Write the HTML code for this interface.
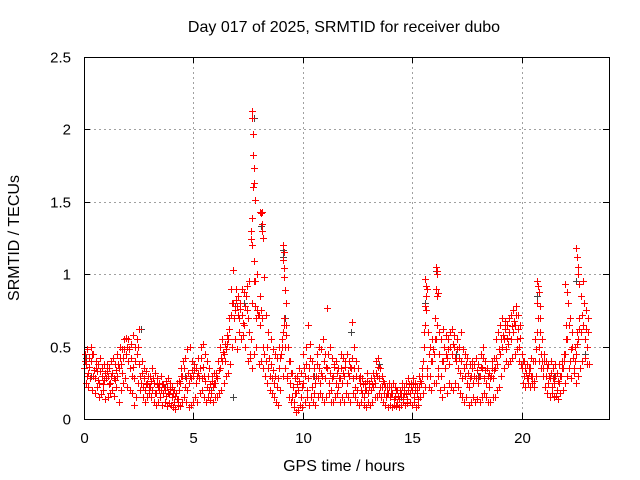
<!DOCTYPE html>
<html><head><meta charset="utf-8"><style>
html,body{margin:0;padding:0;background:#fff;}
svg{display:block;font-family:"Liberation Sans",sans-serif;}
</style></head><body>
<svg id="chart" width="640" height="480" viewBox="0 0 640 480" xmlns="http://www.w3.org/2000/svg">
<rect x="0" y="0" width="640" height="480" fill="#fff"/>
<text x="344" y="32" font-size="16" text-anchor="middle" fill="#000">Day 017 of 2025, SRMTID for receiver dubo</text>
<text x="344" y="471" font-size="16" text-anchor="middle" fill="#000">GPS time / hours</text>
<text transform="translate(19,238) rotate(-90)" font-size="16" text-anchor="middle" fill="#000">SRMTID / TECUs</text>
<g id="grid"></g>
<g id="ticks"></g>
<g id="gray"></g>
<g id="red"></g>
<rect x="84.5" y="57.5" width="525" height="362" fill="none" stroke="#000" stroke-width="1"/>
</svg>
<script>
const xTicks=[0,5,10,15,20];
const yTicks=[0,0.5,1,1.5,2,2.5];
const yTickLabels=["0","0.5","1","1.5","2","2.5"];
const times=[0.0,0.1,0.2,0.3,0.4,0.5,0.6,0.7,0.8,0.9,1.0,1.1,1.2,1.3,1.4,1.5,1.6,1.7,1.8,1.9,2.0,2.1,2.2,2.3,2.4,2.5,2.6,2.7,2.8,2.9,3.0,3.1,3.2,3.3,3.4,3.5,3.6,3.7,3.8,3.9,4.0,4.1,4.2,4.3,4.4,4.5,4.6,4.7,4.8,4.9,5.0,5.1,5.2,5.3,5.4,5.5,5.6,5.7,5.8,5.9,6.0,6.1,6.2,6.3,6.4,6.5,6.6,6.7,6.8,6.9,7.0,7.1,7.2,7.3,7.4,7.5,7.6,7.7,7.8,7.9,8.0,8.1,8.2,8.3,8.4,8.5,8.6,8.7,8.8,8.9,9.0,9.1,9.2,9.3,9.4,9.5,9.6,9.7,9.8,9.9,10.0,10.1,10.2,10.3,10.4,10.5,10.6,10.7,10.8,10.9,11.0,11.1,11.2,11.3,11.4,11.5,11.6,11.7,11.8,11.9,12.0,12.1,12.2,12.3,12.4,12.5,12.6,12.7,12.8,12.9,13.0,13.1,13.2,13.3,13.4,13.5,13.6,13.7,13.8,13.9,14.0,14.1,14.2,14.3,14.4,14.5,14.6,14.7,14.8,14.9,15.0,15.1,15.2,15.3,15.4,15.5,15.6,15.7,15.8,15.9,16.0,16.1,16.2,16.3,16.4,16.5,16.6,16.7,16.8,16.9,17.0,17.1,17.2,17.3,17.4,17.5,17.6,17.7,17.8,17.9,18.0,18.1,18.2,18.3,18.4,18.5,18.6,18.7,18.8,18.9,19.0,19.1,19.2,19.3,19.4,19.5,19.6,19.7,19.8,19.9,20.0,20.1,20.2,20.3,20.4,20.5,20.6,20.7,20.8,20.9,21.0,21.1,21.2,21.3,21.4,21.5,21.6,21.7,21.8,21.9,22.0,22.1,22.2,22.3,22.4,22.5,22.6,22.7,22.8,22.9,23.0];
const valsMid=[.35,.38,.32,.40,.30,.28,.33,.25,.30,.27, .28,.30,.25,.32,.27,.30,.35,.38,.42,.45, .40,.35,.30,.28,.45,.38,.25,.22,.20,.25, .22,.20,.25,.18,.22,.20,.18,.20,.22,.17, .15,.12,.18,.14,.25,.30,.22,.20,.25,.28, .30,.25,.32,.35,.28,.30,.22,.20,.18,.22, .25,.28,.35,.40,.45,.48,.55,.72,.80,.75, .78,.70,.72,.65,.85,.70,.45,.80,.78,.75, .72,.75,.50,.40,.35,.30,.28,.25,.22,.35, .45,.60,.50,.30,.25,.15,.12,.18,.20,.15, .25,.30,.20,.35,.22,.18,.30,.28,.25,.30, .28,.35,.25,.20,.30,.25,.22,.28,.25,.30, .25,.30,.35,.28,.22,.20,.25,.18,.15,.20, .18,.20,.22,.25,.30,.28,.22,.18,.15,.18, .15,.18,.15,.12,.14,.18,.15,.17,.20,.18, .20,.15,.18,.22,.25,.40,.65,.35,.30,.40, .45,.55,.35,.30,.40,.35,.42,.38,.45,.50, .40,.35,.32,.28,.30,.25,.22,.30,.25,.28, .25,.30,.35,.28,.25,.22,.30,.28,.35,.38, .45,.50,.55,.48,.52,.55,.60,.65,.55,.50, .35,.30,.32,.28,.35,.30,.40,.60,.50,.45, .35,.30,.25,.28,.22,.25,.20,.25,.30,.35, .45,.55,.40,.50,.35,.45,.55,.60,.65,.55, .50];
const valsHigh=[.45,.48,.42,.50,.45,.40,.38,.42,.35,.38, .38,.35,.40,.42,.38,.45,.50,.48,.55,.56, .55,.52,.58,.50,.55,.62,.40,.35,.33,.30, .30,.35,.32,.28,.25,.30,.24,.26,.28,.25, .22,.20,.25,.26,.35,.40,.42,.48,.50,.40, .38,.35,.42,.50,.52,.45,.40,.35,.30,.32, .32,.40,.50,.55,.52,.58,.70,.90,1.03,.90, .85,.80,.90,.88,.92,.95,1.30,1.60,.95,1.00, .85,1.43,.98,.72,.60,.55,.48,.45,.42,.50, .55,.70,.65,.50,.40,.32,.28,.30,.35,.32, .45,.50,.65,.52,.40,.35,.45,.50,.48,.55, .45,.77,.50,.42,.38,.40,.35,.45,.42,.40, .45,.40,.67,.50,.40,.35,.30,.28,.25,.32, .25,.28,.32,.40,.42,.35,.30,.25,.22,.25, .22,.25,.22,.20,.20,.25,.22,.25,.28,.25, .28,.25,.22,.30,.35,.60,.85,.60,.50,.55, .70,.85,.60,.55,.62,.58,.55,.60,.62,.58, .55,.50,.60,.48,.45,.42,.38,.40,.38,.42, .38,.45,.50,.40,.35,.32,.40,.42,.55,.60, .65,.70,.68,.65,.70,.72,.75,.78,.72,.65, .45,.40,.38,.35,.42,.40,.55,.80,.70,.55, .45,.40,.38,.40,.35,.38,.32,.38,.40,.45, .65,.80,.70,.60,.50,.60,.70,.85,.95,.75, .70];
const valsLow=[.25,.22,.28,.20,.18,.22,.15,.17,.20,.14, .15,.18,.20,.16,.22,.12,.20,.25,.28,.22, .20,.18,.10,.15,.25,.20,.15,.12,.15,.18, .15,.12,.10,.12,.15,.10,.12,.09,.11,.10, .08,.07,.10,.09,.12,.15,.12,.08,.10,.12, .15,.12,.18,.20,.15,.12,.15,.13,.12,.15, .15,.18,.20,.25,.30,.32,.38,.50,.55,.48, .60,.55,.58,.50,.40,.42,.35,.45,.50,.38, .40,.35,.30,.25,.20,.18,.15,.12,.10,.20, .30,.35,.28,.15,.12,.08,.05,.06,.10,.08, .12,.15,.10,.15,.12,.10,.15,.18,.15,.12, .15,.18,.12,.12,.15,.18,.12,.15,.12,.18, .15,.12,.18,.15,.12,.10,.12,.10,.08,.12, .10,.12,.15,.15,.18,.15,.12,.10,.08,.10, .08,.10,.09,.08,.10,.12,.10,.11,.12,.10, .12,.08,.10,.15,.18,.22,.30,.22,.20,.25, .25,.30,.20,.15,.22,.18,.25,.22,.20,.25, .22,.18,.15,.12,.15,.10,.12,.15,.12,.14, .12,.15,.18,.15,.12,.12,.15,.15,.20,.22, .30,.35,.40,.38,.40,.42,.45,.48,.40,.38, .25,.22,.25,.22,.25,.22,.30,.40,.35,.30, .22,.18,.15,.18,.15,.16,.14,.18,.20,.25, .30,.35,.28,.32,.25,.30,.35,.40,.42,.38, .38];
const valsAlt=[.40,.30,.36,.45,.34,.35,.27,.33,.24,.32, .33,.24,.30,.28,.34,.38,.42,.32,.48,.50, .48,.42,.36,.40,.50,.30,.32,.28,.24,.22, .26,.28,.18,.24,.20,.24,.22,.16,.18,.21, .18,.16,.14,.20,.30,.35,.28,.32,.30,.34, .34,.30,.28,.42,.36,.26,.30,.24,.26,.25, .30,.34,.42,.46,.40,.52,.62,.80,.70,.82, .72,.76,.66,.78,.75,.60,.55,.95,.70,.72, .65,.70,.45,.50,.42,.38,.34,.30,.28,.42, .50,.65,.58,.40,.32,.22,.18,.24,.26,.22, .35,.38,.28,.42,.30,.25,.38,.35,.32,.40, .36,.45,.32,.28,.36,.32,.28,.35,.32,.36, .32,.36,.42,.35,.30,.28,.20,.24,.20,.26, .22,.24,.28,.32,.36,.22,.26,.22,.18,.22, .18,.14,.20,.16,.18,.22,.18,.14,.24,.22, .24,.20,.14,.26,.30,.50,.75,.45,.40,.48, .55,.65,.45,.40,.50,.45,.48,.50,.52,.42, .48,.42,.40,.35,.38,.32,.28,.35,.30,.34, .30,.36,.42,.34,.30,.28,.35,.34,.42,.48, .55,.58,.62,.56,.60,.64,.68,.72,.62,.56, .40,.35,.28,.32,.30,.26,.48,.70,.60,.40, .40,.35,.30,.32,.28,.30,.26,.30,.35,.40, .55,.65,.48,.42,.40,.52,.62,.72,.80,.62, .60];
const spikeTimes=[7.65,7.7,7.7,7.72,7.74,7.76,7.78,7.8,7.7,7.75,7.68,8.05,8.1,8.12,8.15,8.2,9.1,9.12,9.1,9.15,9.12,9.18,9.25,15.6,15.65,15.7,15.6,16.1,16.12,16.15,16.1,16.2,20.7,20.75,20.8,20.85,22.0,22.1,22.5,22.55,22.6,22.58,22.62];
const spikeVals=[1.24,2.13,2.08,1.97,1.82,1.73,1.63,1.51,1.39,1.09,1.2,1.43,1.42,1.35,1.30,1.25,1.2,1.15,1.1,1.04,0.98,0.89,0.80,0.97,0.92,0.9,0.78,1.05,1.02,1.0,0.9,0.87,0.95,0.92,0.88,0.78,0.93,0.88,1.18,1.12,1.05,1.0,0.93];
const grayTimes=[0.1,0.3,1.2,2.6,2.4,3.7,4.6,5.8,6.8,6.9,7.3,7.75,7.72,8.1,9.1,9.1,9.2,10.5,11.5,12.2,13.5,14.5,15.6,16.1,17.0,18.0,19.5,20.7,21.5,22.5,22.9];
const grayVals=[.42,.30,.25,.62,.45,.22,.30,.20,.15,.78,.80,2.08,1.97,1.33,1.17,1.12,.70,.30,.25,.60,.38,.15,.80,1.02,.45,.30,.55,.85,.30,.95,.45];

const X0=84,X1=609,Y0=419,Y1=57;
function sx(v){return X0+(v/24)*(X1-X0);}
function sy(v){return Y0-(v/2.5)*(Y0-Y1);}
const NS="http://www.w3.org/2000/svg";
const grid=document.getElementById('grid'),ticks=document.getElementById('ticks');
function line(g,x1,y1,x2,y2,stroke,dash){const l=document.createElementNS(NS,'line');l.setAttribute('x1',x1);l.setAttribute('y1',y1);l.setAttribute('x2',x2);l.setAttribute('y2',y2);l.setAttribute('stroke',stroke);if(dash)l.setAttribute('stroke-dasharray',dash);g.appendChild(l);return l;}
xTicks.forEach(function(t){
  const x=Math.round(sx(t))+0.5;
  if(t>0){const gl=line(grid,x,Y1,x,Y0,'#a0a0a0','2,3');
  
  }
  line(ticks,x,Y0,x,Y0-6,'#000');line(ticks,x,Y1,x,Y1+6,'#000');
  const tx=document.createElementNS(NS,'text');
  
  
  tx.setAttribute('x',x);tx.setAttribute('y',443);tx.setAttribute('font-size','15');tx.setAttribute('text-anchor','middle');tx.textContent=String(t);ticks.appendChild(tx);
});
yTicks.forEach(function(t,i){
  const y=Math.round(sy(t))+0.5;
  if(t>0&&t<2.5){const gl=line(grid,X0,y,X1,y,'#a0a0a0','2,3');
  
  }
  line(ticks,X0,y,X0+6,y,'#000');line(ticks,X1,y,X1-6,y,'#000');
  const tx=document.createElementNS(NS,'text');
  
  
  tx.setAttribute('x',71);tx.setAttribute('y',y+5);tx.setAttribute('font-size','15');tx.setAttribute('text-anchor','end');tx.textContent=yTickLabels[i];ticks.appendChild(tx);
});
function plus(g,t,v,color){
  const x=Math.round(sx(t))+0.5,y=Math.round(sy(v))+0.5;
  const p=document.createElementNS(NS,'path');
  
  
  p.setAttribute('d','M'+(x-3.5)+' '+y+'H'+(x+3.5)+'M'+x+' '+(y-3.5)+'V'+(y+3.5));
  p.setAttribute('stroke',color);p.setAttribute('stroke-width','1');p.setAttribute('fill','none');
  g.appendChild(p);
}
const gG=document.getElementById('gray'),gR=document.getElementById('red');
grayTimes.forEach(function(t,i){plus(gG,t,grayVals[i],'#444');});
times.forEach(function(t,i){
  plus(gR,t,valsMid[i],'#ff0000');
  plus(gR,t+0.03,valsHigh[i],'#ff0000');
  plus(gR,t+0.05,valsAlt[i],'#ff0000');
  plus(gR,t+0.08,valsLow[i],'#ff0000');
});
spikeTimes.forEach(function(t,i){plus(gR,t,spikeVals[i],'#ff0000');});
</script>
</body></html>
